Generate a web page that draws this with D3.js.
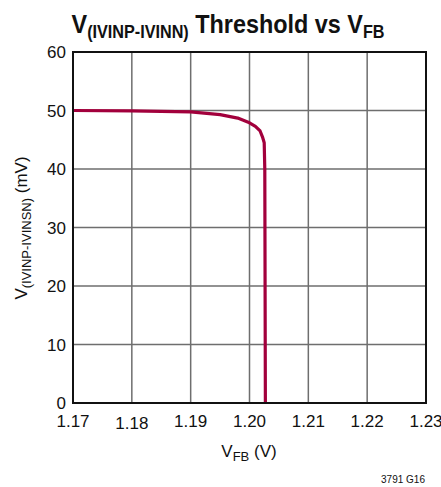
<!DOCTYPE html>
<html><head><meta charset="utf-8">
<script src="https://cdn.jsdelivr.net/npm/d3@7"></script>
<style>body{margin:0;background:#fff}svg{display:block}text{font-family:"Liberation Sans Narrow","Liberation Sans",Arial,sans-serif}</style>
</head><body>
<svg id="c" width="441" height="487"></svg>
<script>
const xTicks = [1.17,1.18,1.19,1.20,1.21,1.22,1.23];
const xTickLabels = ["1.17","1.18","1.19","1.20","1.21","1.22","1.23"];
const yTicks = [0,10,20,30,40,50,60];
const vfb = [1.170,1.180,1.190,1.195,1.198,1.200,1.201,1.2018,1.2022,1.2025,1.2026,1.2027];
const threshold = [50.0,49.95,49.75,49.3,48.7,47.9,47.3,46.5,45.5,44.5,40,0];

const svg = d3.select("#c");
const L=73,R=426,T=52,B=403;
const x = d3.scaleLinear().domain([1.17,1.23]).range([L,R]);
const y = d3.scaleLinear().domain([0,60]).range([B,T]);

svg.append("g").selectAll("line").data(xTicks.slice(1,-1)).join("line")
  .attr("x1",d=>x(d)).attr("x2",d=>x(d)).attr("y1",T).attr("y2",B)
  .attr("stroke","#6e6e6e").attr("stroke-width",1.5);
svg.append("g").selectAll("line").data(yTicks.slice(1,-1)).join("line")
  .attr("y1",d=>y(d)).attr("y2",d=>y(d)).attr("x1",L).attr("x2",R)
  .attr("stroke","#6e6e6e").attr("stroke-width",1.5);

svg.append("path").datum(vfb.map((v,i)=>[v,threshold[i]]))
  .attr("fill","none").attr("stroke","#a2003c").attr("stroke-width",3.2)
  .attr("stroke-linejoin","round")
  .attr("d",d3.line().x(d=>x(d[0])).y(d=>y(d[1])));

svg.append("rect").attr("x",L).attr("y",T).attr("width",R-L).attr("height",B-T)
  .attr("fill","none").attr("stroke","#111").attr("stroke-width",2);

svg.append("g").selectAll("text").data(xTicks).join("text")
  .attr("x",d=>x(d)).attr("y",(d,i)=>i===1?429:427).attr("text-anchor","middle")
  .attr("font-size",17).attr("fill","#111").text((d,i)=>xTickLabels[i]);
svg.append("g").selectAll("text").data(yTicks).join("text")
  .attr("x",66).attr("y",d=>y(d)+6).attr("text-anchor","end")
  .attr("font-size",17).attr("fill","#111").text(d=>d);

const t = svg.append("text").attr("transform","translate(228,33) scale(0.9,1)").attr("text-anchor","middle")
  .attr("font-size",26).attr("font-weight","bold").attr("fill","#111");
t.append("tspan").text("V");
t.append("tspan").attr("font-size",18).attr("dy",5).text("(IVINP-IVINN)");
t.append("tspan").attr("dy",-5).text(" Threshold vs V");
t.append("tspan").attr("font-size",18).attr("dy",5).text("FB");

const xl = svg.append("text").attr("x",249).attr("y",457).attr("text-anchor","middle")
  .attr("font-size",17).attr("fill","#111");
xl.append("tspan").text("V");
xl.append("tspan").attr("font-size",13).attr("dy",4).text("FB");
xl.append("tspan").attr("dy",-4).text(" (V)");

const yl = svg.append("text").attr("transform","translate(27,228) rotate(-90)")
  .attr("text-anchor","middle").attr("font-size",17).attr("fill","#111");
yl.append("tspan").text("V");
yl.append("tspan").attr("font-size",13).attr("dy",4).text("(IVINP-IVINSN)");
yl.append("tspan").attr("dy",-4).text(" (mV)");

svg.append("text").attr("x",425).attr("y",483).attr("text-anchor","end")
  .attr("font-size",10).attr("fill","#111").text("3791 G16");
</script>
</body></html>
